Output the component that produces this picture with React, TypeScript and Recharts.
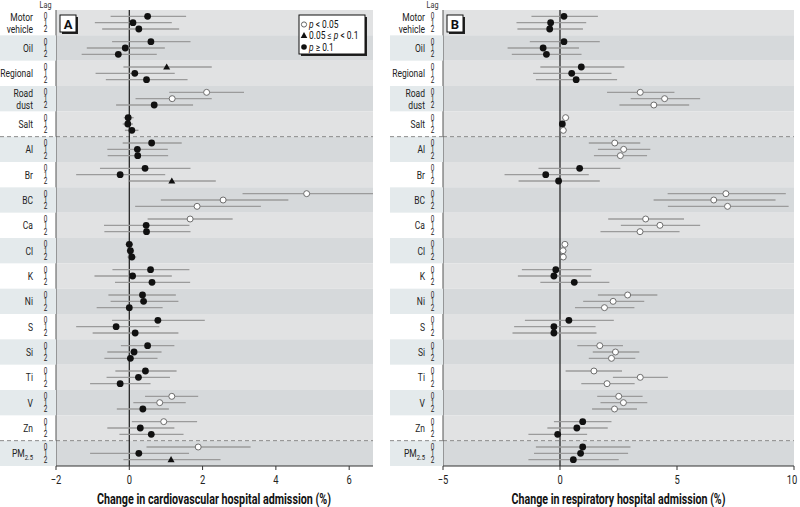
import { ScatterChart, Scatter, XAxis, YAxis, ErrorBar, ReferenceArea, ReferenceLine } from 'recharts'

const FONT = 'Roboto, sans-serif'

const groups = ['Motor vehicle', 'Oil', 'Regional', 'Road dust', 'Salt', 'Al', 'Br', 'BC', 'Ca', 'Cl', 'K', 'Ni', 'S', 'Si', 'Ti', 'V', 'Zn', 'PM2.5']
const lags = [0, 1, 2]
const dashedBefore = ['Al', 'PM2.5']

// panel A, cardiovascular: estimate / lower / upper, lags 0,1,2 per group
const cvdEst = [
  0.50, 0.10, 0.26, 0.59, -0.11, -0.30, 1.02, 0.15, 0.47, 2.11, 1.17, 0.68,
  -0.03, -0.04, 0.07, 0.61, 0.22, 0.23, 0.43, -0.25, 1.16, 4.84, 2.56, 1.85,
  1.66, 0.46, 0.47, 0.00, 0.03, 0.07, 0.58, 0.09, 0.62, 0.36, 0.39, 0.00,
  0.78, -0.36, 0.16, 0.50, 0.13, 0.03, 0.44, 0.25, -0.25, 1.16, 0.83, 0.37,
  0.94, 0.30, 0.60, 1.88, 0.26, 1.14,
]
const cvdLow = [
  -0.51, -0.94, -0.74, -0.47, -1.16, -1.30, -0.16, -0.92, -0.64, 1.09, 0.17, -0.36,
  -0.15, -0.18, -0.12, -0.18, -0.60, -0.59, -0.80, -1.45, 0.00, 3.09, 0.86, 0.16,
  0.50, -0.69, -0.68, -0.10, -0.07, -0.05, -0.46, -0.95, -0.39, -0.57, -0.51, -0.89,
  -0.47, -1.45, -1.00, -0.23, -0.60, -0.68, -0.38, -0.62, -1.07, 0.43, 0.11, -0.34,
  0.07, -0.60, -0.27, 0.47, -1.07, -0.16,
]
const cvdHigh = [
  1.55, 1.16, 1.36, 1.67, 0.97, 0.75, 2.25, 1.24, 1.59, 3.13, 2.25, 1.74,
  0.12, 0.10, 0.25, 1.43, 1.05, 1.06, 1.67, 0.98, 2.36, 6.65, 4.34, 3.59,
  2.82, 1.64, 1.67, 0.10, 0.13, 0.19, 1.64, 1.16, 1.66, 1.27, 1.34, 0.91,
  2.06, 0.82, 1.34, 1.23, 0.88, 0.77, 1.29, 1.11, 0.58, 1.88, 1.54, 1.08,
  1.85, 1.23, 1.48, 3.31, 1.63, 2.49,
]
// o: p < 0.05, t: 0.05 <= p < 0.1, f: p >= 0.1
const cvdSig = [
  'f', 'f', 'f', 'f', 'f', 'f', 't', 'f', 'f', 'o', 'o', 'f',
  'f', 'f', 'f', 'f', 'f', 'f', 'f', 'f', 't', 'o', 'o', 'o',
  'o', 'f', 'f', 'f', 'f', 'f', 'f', 'f', 'f', 'f', 'f', 'f',
  'f', 'f', 'f', 'f', 'f', 'f', 'f', 'f', 'f', 'o', 'o', 'f',
  'o', 'f', 'f', 'o', 'f', 't',
]

// panel B, respiratory
const respEst = [
  0.17, -0.40, -0.44, 0.17, -0.72, -0.58, 0.91, 0.50, 0.69, 3.43, 4.47, 4.01,
  0.24, 0.10, 0.14, 2.34, 2.72, 2.58, 0.84, -0.61, -0.06, 7.09, 6.57, 7.16,
  3.66, 4.27, 3.42, 0.21, 0.13, 0.14, -0.18, -0.26, 0.61, 2.89, 2.27, 1.90,
  0.38, -0.26, -0.26, 1.70, 2.37, 2.20, 1.45, 3.43, 2.01, 2.51, 2.71, 2.33,
  0.97, 0.72, -0.10, 0.97, 0.88, 0.57,
]
const respLow = [
  -1.22, -1.86, -1.82, -1.29, -2.24, -2.06, -0.84, -1.15, -1.03, 2.01, 3.02, 2.54,
  0.09, 0.00, 0.00, 1.23, 1.62, 1.45, -0.92, -2.37, -1.77, 4.60, 4.00, 4.61,
  2.06, 2.60, 1.73, 0.11, 0.03, 0.04, -1.63, -1.80, -0.84, 1.62, 0.99, 0.64,
  -1.50, -1.96, -2.03, 0.74, 1.40, 1.23, 0.24, 2.26, 0.91, 1.59, 1.73, 1.37,
  -0.26, -0.54, -1.35, -1.03, -1.11, -1.35,
]
const respHigh = [
  1.62, 1.12, 0.98, 1.70, 0.81, 0.92, 2.75, 2.20, 2.44, 4.89, 5.99, 5.52,
  0.39, 0.20, 0.29, 3.43, 3.86, 3.72, 2.58, 1.23, 1.70, 9.65, 9.21, 9.77,
  5.30, 5.99, 5.11, 0.31, 0.23, 0.24, 1.35, 1.32, 2.11, 4.16, 3.60, 3.18,
  2.30, 1.52, 1.56, 2.69, 3.39, 3.22, 2.65, 4.61, 3.19, 3.53, 3.73, 3.29,
  2.20, 2.04, 1.16, 3.01, 2.91, 2.51,
]
const respSig = [
  'f', 'f', 'f', 'f', 'f', 'f', 'f', 'f', 'f', 'o', 'o', 'o',
  'o', 'f', 'o', 'o', 'o', 'o', 'f', 'f', 'f', 'o', 'o', 'o',
  'o', 'o', 'o', 'o', 'o', 'o', 'f', 'f', 'f', 'o', 'o', 'o',
  'f', 'f', 'f', 'o', 'o', 'o', 'o', 'o', 'o', 'o', 'o', 'o',
  'f', 'f', 'f', 'f', 'f', 'f',
]

const cvdTicks = [-2, 0, 2, 4, 6]
const respTicks = [-5, 0, 5, 10]

const H = 507
const TOP = 10
const BOTTOM = 41
const ROWS = groups.length * 4
const ROW_PX = (H - TOP - BOTTOM) / ROWS

function buildRows(est: number[], low: number[], high: number[], sig: string[]) {
  return groups.flatMap((g, gi) =>
    lags.map((lag) => {
      const i = gi * 3 + lag
      return { y: gi * 4 + lag + 1, x: est[i], err: [est[i] - low[i], high[i] - est[i]], sig: sig[i] }
    })
  )
}

// the original uses a condensed face, so squeeze horizontally
const CText = ({ x, y, size = 11, sx = 0.8, anchor = 'start', weight = 'normal', fill = '#222', children }: any) => (
  <text transform={`translate(${x},${y}) scale(${sx},1)`} textAnchor={anchor} fontSize={size} fontWeight={weight}
    fill={fill} fontFamily={FONT}>{children}</text>
)

const Marker = (props: any) => {
  const { cx, cy, payload } = props
  if (cx == null || cy == null) return null
  if (payload.sig === 'o') return <circle cx={cx} cy={cy} r={3} fill="#fff" stroke="#6d6d6d" strokeWidth={1} />
  if (payload.sig === 't') return <polygon points={`${cx},${cy - 3.6} ${cx + 3.5},${cy + 2.5} ${cx - 3.5},${cy + 2.5}`} fill="#111" />
  return <circle cx={cx} cy={cy} r={3.4} fill="#111" />
}

function makeTick(labelRight: number, digitX: number, axisX: number) {
  return (props: any) => {
    const v = props.payload.value
    const y = props.y
    const gi = Math.floor(v / 4)
    const lag = v - gi * 4 - 1
    const name = groups[gi]
    const parts: any[] = []
    if (lag === 0) {
      const top = y - ROW_PX
      if (gi % 2 === 1) parts.push(<rect key="s" x={0} y={top} width={axisX} height={ROW_PX * 4} fill="#e4eaec" />)
      if (dashedBefore.includes(name)) parts.push(<line key="d" x1={0} x2={axisX} y1={top} y2={top} stroke="#8a8a8a" strokeDasharray="4 3" />)
      const cy = y + ROW_PX
      if (name === 'PM2.5') {
        parts.push(
          <CText key="l" x={labelRight} y={cy + 4} anchor="end" size={11.5} sx={0.74}>
            PM<tspan fontSize={8} dy={3}>2.5</tspan>
          </CText>
        )
      } else if (name.includes(' ')) {
        const [a, b] = name.split(' ')
        parts.push(<CText key="l1" x={labelRight} y={cy - 2} anchor="end" size={11.5} sx={0.74}>{a}</CText>)
        parts.push(<CText key="l2" x={labelRight} y={cy + 10} anchor="end" size={11.5} sx={0.74}>{b}</CText>)
      } else {
        parts.push(<CText key="l" x={labelRight} y={cy + 4} anchor="end" size={11.5} sx={0.74}>{name}</CText>)
      }
    }
    parts.push(<CText key="n" x={digitX} y={y + 3} anchor="middle" size={8.5} sx={0.75}>{lag}</CText>)
    return <g>{parts}</g>
  }
}

const xTick = (props: any) => {
  const v = props.payload.value
  return <CText x={props.x} y={484} anchor="middle" size={12} sx={0.78}>{v < 0 ? '\u2212' + Math.abs(v) : String(v)}</CText>
}

const yTicks = groups.flatMap((g, gi) => lags.map((lag) => gi * 4 + lag + 1))

function Panel(props: {
  data: any[]; width: number; left: number; yw: number; right: number; domain: number[]; ticks: number[]
  labelRight: number; digitX: number
}) {
  const { data, width, left, yw, right, domain, ticks, labelRight, digitX } = props
  return (
    <div style={{ position: 'absolute', left, top: 0, width, height: H }}>
      <ScatterChart width={width} height={H} margin={{ top: TOP, right, bottom: BOTTOM - 30, left: 0 }}>
        {groups.map((g, gi) => (
          <ReferenceArea key={g} y1={gi * 4} y2={gi * 4 + 4} x1={domain[0]} x2={domain[1]} fill={gi % 2 ? '#d6d9db' : '#e1e2e3'} fillOpacity={1} stroke="none" />
        ))}
        {groups.map((g, gi) => dashedBefore.includes(g) ? (
          <ReferenceLine key={'d' + g} y={gi * 4} stroke="#8a8a8a" strokeDasharray="4 3" />
        ) : null)}
        <ReferenceLine x={0} stroke="#1a1a1a" strokeWidth={1.2} />
        <XAxis type="number" dataKey="x" domain={domain} ticks={ticks} allowDataOverflow height={30}
          tick={xTick} tickSize={4} stroke="#333" />
        <YAxis type="number" dataKey="y" domain={[0, ROWS]} reversed ticks={yTicks} width={yw}
          interval={0} tickLine={false} stroke="#555" tick={makeTick(labelRight, digitX, yw)} />
        <Scatter data={data} shape={<Marker />} isAnimationActive={false}>
          <ErrorBar dataKey="err" direction="x" width={0} stroke="#9b9b9b" strokeWidth={1.4} />
        </Scatter>
      </ScatterChart>
    </div>
  )
}

function Overlay() {
  const tag = (x: number, label: string) => (
    <g>
      <rect x={x + 2} y={17} width={16} height={17} fill="#222" />
      <rect x={x} y={15} width={16} height={17} fill="#fff" stroke="#111" />
      <text x={x + 8} y={28.5} textAnchor="middle" fontSize={13} fontWeight="bold" fontFamily={FONT} fill="#111">{label}</text>
    </g>
  )
  return (
    <svg width={800} height={H} style={{ position: 'absolute', left: 0, top: 0, pointerEvents: 'none' }}>
      <CText x={45.5} y={8} anchor="middle" size={9} sx={0.8} fill="#333">Lag</CText>
      <CText x={432.5} y={8} anchor="middle" size={9} sx={0.8} fill="#333">Lag</CText>
      <text x={214} y={504} textAnchor="middle" fontSize={14} fontWeight="bold" fontFamily={FONT} fill="#111"
        textLength={234} lengthAdjust="spacingAndGlyphs">Change in cardiovascular hospital admission (%)</text>
      <text x={618.5} y={504} textAnchor="middle" fontSize={14} fontWeight="bold" fontFamily={FONT} fill="#111"
        textLength={214} lengthAdjust="spacingAndGlyphs">Change in respiratory hospital admission (%)</text>
      {tag(60, 'A')}
      {tag(447, 'B')}
      <rect x={301} y={17} width={66} height={39} fill="#222" />
      <rect x={299} y={15} width={66} height={39} fill="#fff" stroke="#111" />
      <circle cx={304} cy={24.5} r={2.6} fill="#fff" stroke="#666" />
      <CText x={309} y={28} size={10.5} sx={0.8} fill="#111"><tspan fontStyle="italic">p</tspan> &lt; 0.05</CText>
      <polygon points="304,32 307.3,38 300.7,38" fill="#111" />
      <CText x={309} y={39} size={10.5} sx={0.8} fill="#111">0.05 ≤ <tspan fontStyle="italic">p</tspan> &lt; 0.1</CText>
      <circle cx={304} cy={47} r={2.8} fill="#111" />
      <CText x={309} y={50.5} size={10.5} sx={0.8} fill="#111"><tspan fontStyle="italic">p</tspan> ≥ 0.1</CText>
    </svg>
  )
}

export default function App() {
  const cvd = buildRows(cvdEst, cvdLow, cvdHigh, cvdSig)
  const resp = buildRows(respEst, respLow, respHigh, respSig)
  return (
    <div style={{ position: 'absolute', left: 0, top: 0, width: 800, height: H, background: '#fff' }}>
      <Panel data={cvd} width={400} left={0} yw={56} right={27} domain={[-2, 6.65]} ticks={cvdTicks}
        labelRight={33} digitX={45.5} />
      <Panel data={resp} width={410} left={390} yw={53} right={6} domain={[-5, 10]} ticks={respTicks}
        labelRight={35} digitX={42.5} />
      <Overlay />
    </div>
  )
}
